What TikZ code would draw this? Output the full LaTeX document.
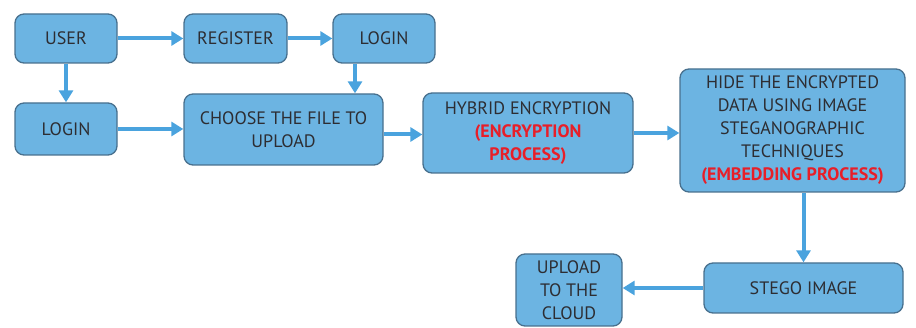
\documentclass[tikz,border=0pt]{standalone}
\usepackage{fontspec}
\setmainfont{PT Sans}
\usetikzlibrary{arrows.meta,calc}
\definecolor{boxfill}{RGB}{108,180,226}
\definecolor{boxline}{RGB}{72,112,142}
\definecolor{arrowc}{RGB}{74,163,222}
\definecolor{txt}{RGB}{45,45,50}
\definecolor{redt}{RGB}{232,30,40}
\tikzset{
  blk/.style={draw=boxline, line width=1.3pt, fill=boxfill, rounded corners=9pt,
    align=center, text=txt, inner sep=2pt,
    font=\fontsize{18}{23}\selectfont},
  arr/.style={draw=arrowc, line width=4pt, -{Triangle[length=12pt,width=14pt]}}
}
\newcommand{\rd}[1]{\textcolor{redt}{\textbf{#1}}}
\begin{document}
\begin{tikzpicture}[x=1pt,y=-1pt]
\useasboundingbox (0,0) rectangle (916,328);
\node[blk, minimum width=102pt, minimum height=49pt] (user) at (66,38.5) {USER};
\node[blk, minimum width=103pt, minimum height=49pt] (register) at (235.5,38.5) {REGISTER};
\node[blk, minimum width=102pt, minimum height=49pt] (logintop) at (384,38.5) {LOGIN};
\node[blk, minimum width=102pt, minimum height=52pt] (loginleft) at (66,129) {LOGIN};
\node[blk, minimum width=199pt, minimum height=71pt] (choose) at (283.5,129.5) {CHOOSE THE FILE TO\\UPLOAD};
\node[blk, minimum width=210pt, minimum height=80pt] (hybrid) at (528,133) {HYBRID ENCRYPTION\\\rd{(ENCRYPTION}\\\rd{PROCESS)}};
\node[blk, minimum width=225pt, minimum height=123pt] (hide) at (792.5,130.5) {HIDE THE ENCRYPTED\\DATA USING IMAGE\\STEGANOGRAPHIC\\TECHNIQUES\\\rd{(EMBEDDING PROCESS)}};
\node[blk, minimum width=199pt, minimum height=50pt] (stego) at (803.5,288) {STEGO IMAGE};
\node[blk, minimum width=106pt, minimum height=72pt] (upload) at (569,290) {UPLOAD\\TO THE\\CLOUD};

\coordinate (lg) at ([xshift=-29pt]logintop.south);
\coordinate (ch) at ([yshift=-5pt]choose.east);

\draw[arr] (user.east) -- (register.west);
\draw[arr] (register.east) -- (logintop.west);
\draw[arr] (user.south) -- (loginleft.north);
\draw[arr] (lg) -- (lg |- choose.north);
\draw[arr] (loginleft.east) -- (loginleft.east -| choose.west);
\draw[arr] (ch) -- (ch -| hybrid.west);
\draw[arr] (hybrid.east) -- (hybrid.east -| hide.west);
\draw[arr] (hide.south -| stego.north) -- (stego.north);
\draw[arr] (stego.west) -- (stego.west -| upload.east);
\end{tikzpicture}
\end{document}
